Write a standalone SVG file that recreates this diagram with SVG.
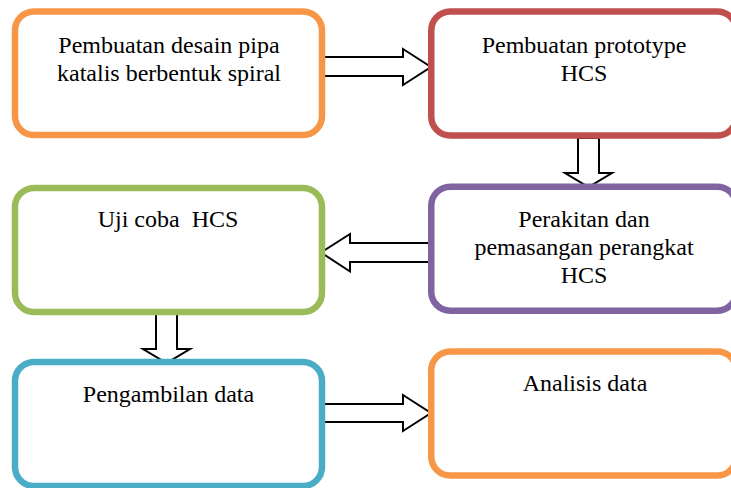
<svg xmlns="http://www.w3.org/2000/svg" width="731" height="488" viewBox="0 0 731 488">
<style>
.box{fill:#ffffff;stroke-width:6.5}
.arr{fill:#ffffff;stroke:#000000;stroke-width:2;stroke-linejoin:miter}
.t{font-family:'Liberation Serif','Times New Roman',serif;font-size:24px;fill:#000000;text-anchor:middle}
</style>
<rect width="731" height="488" fill="#ffffff"/>
<g id="connectors">
<polygon class="arr" points="322,57 403,57 403,49 431,67 403,85 403,76 322,76"/>
<polygon class="arr" points="578,138 599,138 599,173 612,173 588.5,187 565,173 578,173"/>
<polygon class="arr" points="430,243 350,243 350,234 321,252.5 350,271.5 350,262 430,262"/>
<polygon class="arr" points="156,312 177,312 177,349 190,349 166.5,363 143,349 156,349"/>
<polygon class="arr" points="322,404 403,404 403,395 431,413 403,431 403,422 322,422"/>
</g>
<g id="node1">
<rect class="box" x="15" y="11.5" width="307" height="123.5" rx="19" stroke="#F79646"/>
<text class="t" x="169" y="53">Pembuatan desain pipa</text>
<text class="t" x="169" y="81">katalis berbentuk spiral</text>
</g>
<g id="node2">
<rect class="box" x="431.25" y="11.5" width="305" height="124" rx="19" stroke="#C0504D"/>
<text class="t" x="584" y="53">Pembuatan prototype</text>
<text class="t" x="584" y="81">HCS</text>
</g>
<g id="node3">
<rect class="box" x="431.25" y="186.7" width="305" height="124" rx="19" stroke="#8064A2"/>
<text class="t" x="584" y="227">Perakitan dan</text>
<text class="t" x="584" y="255">pemasangan perangkat</text>
<text class="t" x="584" y="283">HCS</text>
</g>
<g id="node4">
<rect class="box" x="15" y="188" width="307" height="124" rx="19" stroke="#9BBB59"/>
<text class="t" x="168" y="227" xml:space="preserve">Uji coba  HCS</text>
</g>
<g id="node5">
<rect class="box" x="15" y="362" width="307" height="124" rx="19" stroke="#4BACC6"/>
<text class="t" x="168.5" y="402">Pengambilan data</text>
</g>
<g id="node6">
<rect class="box" x="431.25" y="351.5" width="305" height="124" rx="19" stroke="#F79646"/>
<text class="t" x="585" y="391">Analisis data</text>
</g>
</svg>
